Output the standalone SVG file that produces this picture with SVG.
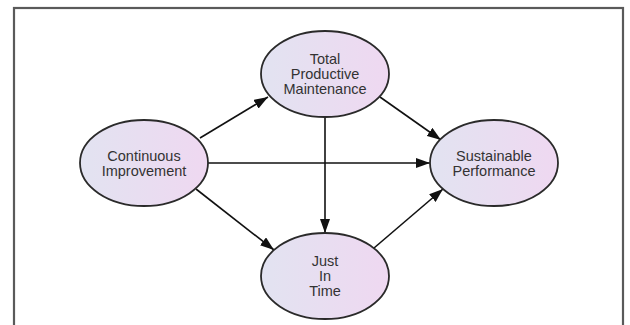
<svg xmlns="http://www.w3.org/2000/svg" width="630" height="325" viewBox="0 0 630 325">
  <defs>
    <linearGradient id="fill" x1="0" y1="0" x2="1" y2="0">
      <stop offset="0" stop-color="#e2e3f1"/>
      <stop offset="1" stop-color="#efd8f1"/>
    </linearGradient>
    <marker id="arrow" viewBox="0 0 14 10" refX="14" refY="5" markerWidth="14" markerHeight="10" markerUnits="userSpaceOnUse" orient="auto">
      <path d="M0,0 L14,5 L0,10 Z" fill="#111"/>
    </marker>
  </defs>
  <style>
    .node ellipse { fill: url(#fill); stroke: #2a2a2a; stroke-width: 1.8; }
    .node text { font-family: "Liberation Sans", Arial, sans-serif; font-size: 14.5px; fill: #333; text-anchor: middle; }
    .edge { stroke: #111; stroke-width: 1.6; fill: none; marker-end: url(#arrow); }
    .frame { fill: #fff; stroke: #5a5a5a; stroke-width: 2.2; }
  </style>
  <rect x="0" y="0" width="630" height="325" fill="#fff"/>
  <rect class="frame" x="14" y="8" width="609" height="330"/>

  <g id="connectors">
    <line class="edge" x1="200" y1="138" x2="268" y2="97"/>
    <line class="edge" x1="208" y1="163" x2="430" y2="163"/>
    <line class="edge" x1="196" y1="189" x2="274" y2="250"/>
    <line class="edge" x1="380" y1="97" x2="441" y2="140"/>
    <line class="edge" x1="325" y1="117" x2="325" y2="233"/>
    <line class="edge" x1="374" y1="248" x2="443" y2="189"/>
  </g>

  <g id="tpm" class="node">
    <ellipse cx="325" cy="74" rx="64" ry="43"/>
    <text x="325" y="64">Total</text>
    <text x="325" y="79">Productive</text>
    <text x="325" y="94">Maintenance</text>
  </g>
  <g id="ci" class="node">
    <ellipse cx="144" cy="163" rx="64" ry="43"/>
    <text x="144" y="160.5">Continuous</text>
    <text x="144" y="175.5">Improvement</text>
  </g>
  <g id="sp" class="node">
    <ellipse cx="494" cy="163" rx="64" ry="43"/>
    <text x="494" y="160.5">Sustainable</text>
    <text x="494" y="175.5">Performance</text>
  </g>
  <g id="jit" class="node">
    <ellipse cx="325" cy="276" rx="64" ry="43"/>
    <text x="325" y="266">Just</text>
    <text x="325" y="281">In</text>
    <text x="325" y="296">Time</text>
  </g>
</svg>
